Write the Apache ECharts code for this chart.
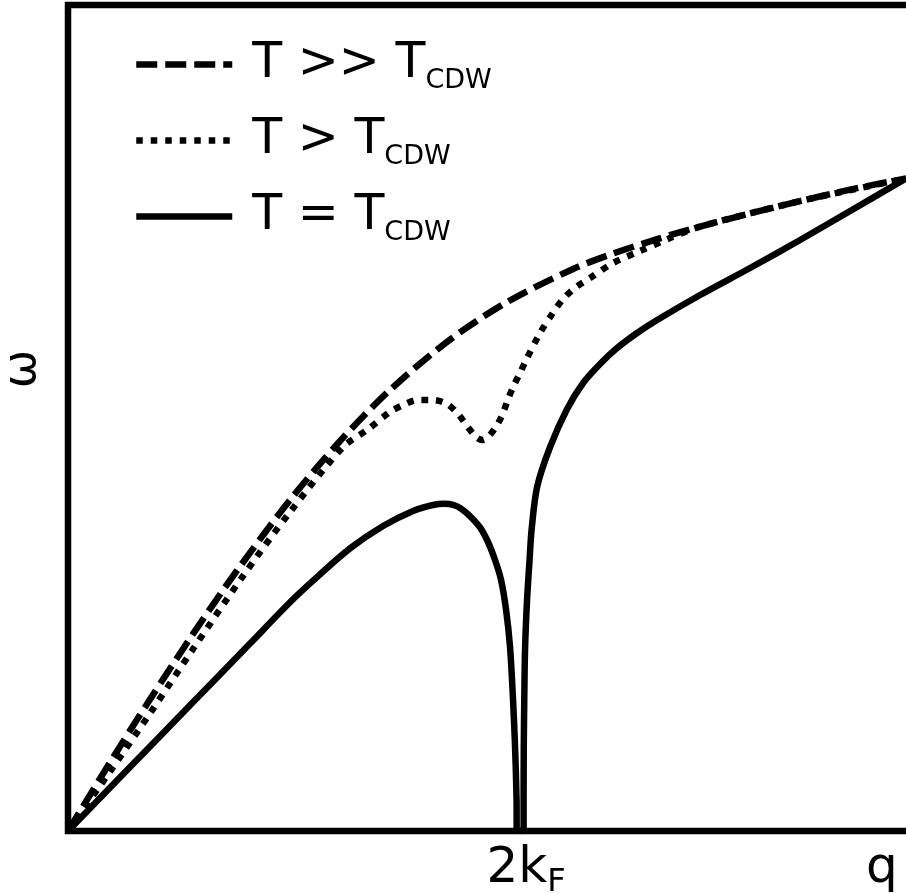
<!DOCTYPE html>
<html>
<head>
<meta charset="utf-8">
<script src="https://cdn.jsdelivr.net/npm/echarts@6/dist/echarts.min.js"></script>
<style>
  html, body { margin: 0; padding: 0; background: #fff; }
  #chart { width: 906px; height: 894px; }
</style>
</head>
<body>
<div id="chart"></div>
<script>
// Phonon dispersion ω(q) near the Peierls / CDW transition (Kohn anomaly at 2kF)

// legend names: main text and subscript, separated by "_"
const seriesNames = ['T >> T_CDW', 'T > T_CDW', 'T = T_CDW'];

// T >> T_CDW : undisturbed acoustic branch
const qHigh = [0, 0.0501, 0.0979, 0.1492, 0.2017, 0.2649, 0.3246, 0.3842, 0.4558, 0.5239, 0.6026, 0.6468, 0.7029, 0.7542, 0.8138, 0.8735, 0.9332, 1.000];
const wHigh = [0, 0.0829, 0.1594, 0.2386, 0.3154, 0.4007, 0.4722, 0.5339, 0.5949, 0.6404, 0.6804, 0.6978, 0.7166, 0.7317, 0.7477, 0.7626, 0.7765, 0.790];

// T > T_CDW : softening starts to show a dip
const qMid = [0, 0.0501, 0.0979, 0.1492, 0.2088, 0.2649, 0.3282, 0.3568, 0.3842, 0.3998, 0.4177, 0.4356, 0.4523, 0.4654, 0.4761, 0.4869, 0.4940, 0.5012, 0.5119, 0.5191, 0.5251, 0.5322, 0.5394, 0.5465, 0.5632, 0.5776, 0.5907, 0.6062, 0.6229, 0.6504, 0.6826, 0.7184, 0.7542, 0.8735, 1.000];
const wMid = [0, 0.0720, 0.1425, 0.2203, 0.3087, 0.3862, 0.4649, 0.4855, 0.5073, 0.5157, 0.5218, 0.5218, 0.5169, 0.5048, 0.4903, 0.4770, 0.4734, 0.4770, 0.4915, 0.5061, 0.5230, 0.5400, 0.5545, 0.5702, 0.6029, 0.6259, 0.6441, 0.6586, 0.6695, 0.6877, 0.7022, 0.7179, 0.7317, 0.7626, 0.790];

// T = T_CDW : the mode goes soft (ω → 0) at 2kF
const qCrit = [0, 0.0740, 0.1456, 0.2172, 0.2649, 0.2924, 0.3365, 0.3759, 0.4117, 0.4356, 0.4499, 0.4678, 0.4893, 0.5000, 0.5095, 0.5167, 0.5227, 0.5274, 0.5310, 0.5334, 0.5352, 0.5354, 0.5436, 0.5436, 0.5438, 0.5444, 0.5453, 0.5477, 0.5507, 0.5531, 0.5597, 0.5752, 0.5955, 0.6146, 0.6348, 0.6551, 0.6790, 0.7029, 0.7542, 0.8138, 0.8735, 0.9332, 1.000];
const wCrit = [0, 0.0774, 0.1522, 0.2270, 0.2769, 0.3031, 0.3421, 0.3692, 0.3874, 0.3947, 0.3961, 0.3910, 0.3705, 0.3523, 0.3281, 0.3039, 0.2676, 0.2228, 0.1586, 0.1017, 0.0375, 0, 0, 0.0375, 0.1017, 0.1586, 0.2191, 0.2797, 0.3281, 0.3644, 0.4165, 0.4649, 0.5109, 0.5424, 0.5654, 0.5847, 0.6029, 0.6186, 0.6489, 0.6816, 0.7155, 0.7506, 0.790];

// x-axis marks: position of 2kF and of the axis title q
const qTickValues = [0.5388, 0.971];
const qTickLabels = ['2k_F', 'q'];

function pairs(xs, ys) {
  return xs.map((x, i) => [x, ys[i]]);
}

const FONT = 'DejaVu Sans';
const LW = 6.5;

function subscriptRich(text) {
  const parts = text.split('_');
  return parts.length > 1 ? '{t|' + parts[0] + '}{s|' + parts[1] + '}' : '{t|' + parts[0] + '}';
}

const chart = echarts.init(document.getElementById('chart'), null, { renderer: 'canvas' });

const dashTypes = [[21, 8], [6.5, 8], 'solid'];
const datasets = [pairs(qHigh, wHigh), pairs(qMid, wMid), pairs(qCrit, wCrit)];

chart.setOption({
  animation: false,
  backgroundColor: '#fff',
  textStyle: { fontFamily: FONT, color: '#000' },
  grid: {
    left: 68, top: 5, right: -6, bottom: 63,
    containLabel: false,
    outerBoundsMode: 'none',
    show: true, borderColor: '#000', borderWidth: LW, backgroundColor: 'transparent'
  },
  legend: {
    orient: 'vertical',
    left: 133,
    top: 40,
    padding: 0,
    itemWidth: 96,
    itemHeight: 14,
    itemGap: 21.5,
    selectedMode: false,
    data: seriesNames,
    itemStyle: { opacity: 0, borderWidth: 0 },
    lineStyle: { width: LW, type: 'inherit', color: '#000', opacity: 1 },
    formatter: subscriptRich,
    textStyle: {
      color: '#000',
      rich: {
        t: { fontFamily: FONT, fontSize: 49, lineHeight: 60, verticalAlign: 'middle', padding: [0, 0, 0, 15], color: '#000' },
        s: { fontFamily: FONT, fontSize: 27, lineHeight: 32, verticalAlign: 'bottom', color: '#000' }
      }
    }
  },
  xAxis: {
    type: 'value',
    min: 0,
    max: 1.007,
    axisLine: { show: false },
    axisTick: { show: false },
    splitLine: { show: false },
    axisLabel: {
      customValues: qTickValues,
      margin: 8,
      formatter: function (v) {
        const i = qTickValues.indexOf(v);
        if (i < 0) return '';
        const parts = qTickLabels[i].split('_');
        return parts.length > 1 ? '{a|' + parts[0] + '}{b|' + parts[1] + '}' : '{c|' + parts[0] + '}';
      },
      rich: {
        a: { fontFamily: FONT, fontSize: 50, lineHeight: 60, verticalAlign: 'middle', padding: [0, 0, 0, 13], color: '#000' },
        b: { fontFamily: FONT, fontSize: 32, lineHeight: 40, verticalAlign: 'bottom', color: '#000' },
        c: { fontFamily: FONT, fontSize: 50, lineHeight: 60, verticalAlign: 'middle', color: '#000' }
      }
    }
  },
  yAxis: {
    type: 'value',
    min: 0,
    max: 1,
    name: 'ω',
    nameLocation: 'middle',
    nameRotate: 90,
    nameGap: 20,
    nameTextStyle: { fontFamily: FONT, fontSize: 46, lineHeight: 50, color: '#000', padding: [0, 0, 0, 98] },
    axisLine: { show: false },
    axisTick: { show: false },
    axisLabel: { show: false },
    splitLine: { show: false }
  },
  series: seriesNames.map((name, i) => ({
    name: name,
    type: 'line',
    data: datasets[i],
    symbol: 'none',
    smooth: 0.3,
    z: 3 - i,
    itemStyle: { color: '#000' },
    lineStyle: { color: '#000', width: LW, type: dashTypes[i], cap: 'butt', join: 'round' }
  }))
});
</script>
</body>
</html>
